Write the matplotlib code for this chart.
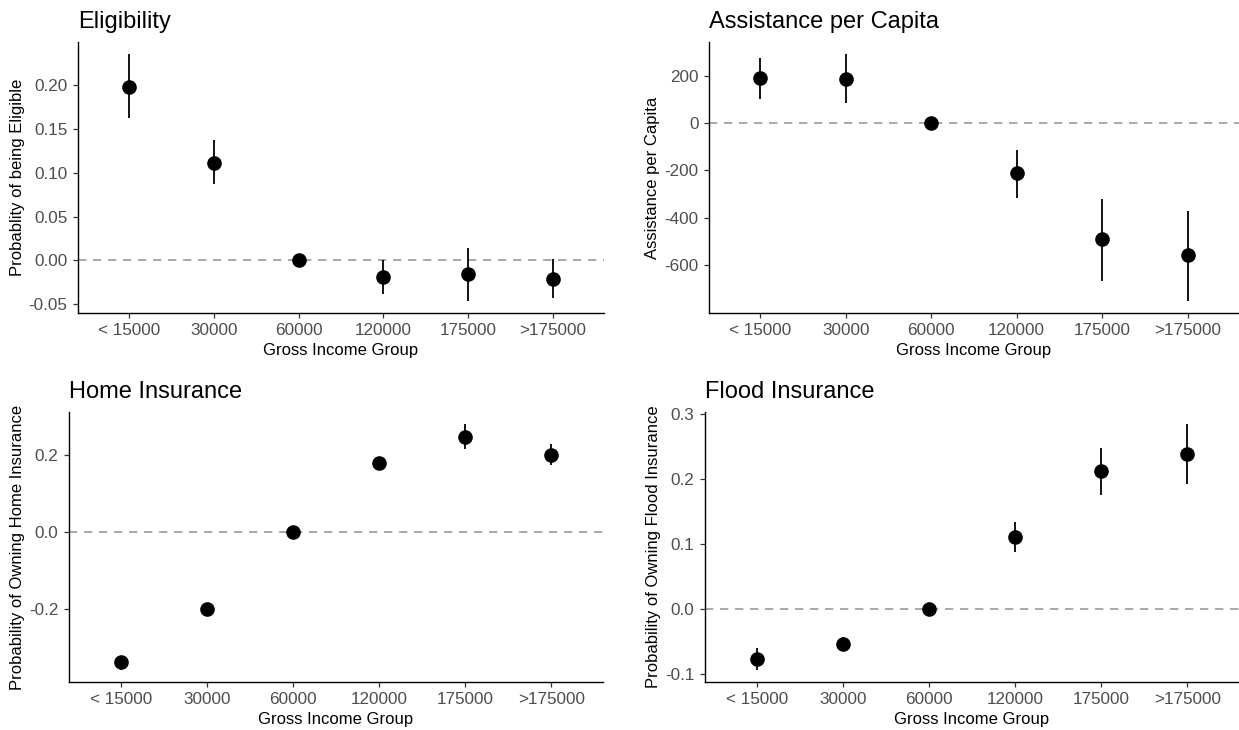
import matplotlib
matplotlib.use("Agg")
import matplotlib.pyplot as plt
import numpy as np

plt.rcParams['font.family'] = ['Liberation Sans', 'DejaVu Sans']
plt.rcParams['axes.unicode_minus'] = False

categories = ["< 15000", "30000", "60000", "120000", "175000", ">175000"]

elig_est = [0.198, 0.111, 0.0, -0.019, -0.016, -0.021]
elig_lo = [0.162, 0.087, 0.0, -0.038, -0.046, -0.0435]
elig_hi = [0.235, 0.137, 0.0, 0.0, 0.014, 0.0015]

assist_est = [193, 187, 0, -212, -490, -560]
assist_lo = [103, 86, 0, -317, -668, -752]
assist_hi = [277, 292, 0, -113, -320, -370]

home_est = [-0.339, -0.200, 0.0, 0.180, 0.248, 0.202]
home_lo = [-0.358, -0.208, 0.0, 0.162, 0.216, 0.176]
home_hi = [-0.321, -0.192, 0.0, 0.197, 0.281, 0.229]

flood_est = [-0.076, -0.053, 0.0, 0.111, 0.212, 0.238]
flood_lo = [-0.093, -0.064, 0.0, 0.088, 0.1755, 0.192]
flood_hi = [-0.059, -0.043, 0.0, 0.134, 0.248, 0.284]

elig_ticks = [-0.05, 0.00, 0.05, 0.10, 0.15, 0.20]
assist_ticks = [-600, -400, -200, 0, 200]
home_ticks = [-0.2, 0.0, 0.2]
flood_ticks = [-0.1, 0.0, 0.1, 0.2, 0.3]

W, H = 1239, 730
fig = plt.figure(figsize=(W / 100, H / 100), dpi=100)

def px_axes(l, r, t, b):
    return fig.add_axes([l / W, 1 - b / H, (r - l) / W, (b - t) / H])

panels = [
    dict(box=(78, 604, 42, 313), title="Eligibility", ylabel="Probablity of being Eligible",
         est=elig_est, lo=elig_lo, hi=elig_hi, ticks=elig_ticks, fmt="{:.2f}"),
    dict(box=(709, 1239, 42, 313), title="Assistance per Capita", ylabel="Assistance per Capita",
         est=assist_est, lo=assist_lo, hi=assist_hi, ticks=assist_ticks, fmt="{:.0f}"),
    dict(box=(69, 603, 412, 682), title="Home Insurance", ylabel="Probability of Owning Home Insurance",
         est=home_est, lo=home_lo, hi=home_hi, ticks=home_ticks, fmt="{:.1f}"),
    dict(box=(705, 1239, 412, 682), title="Flood Insurance", ylabel="Probability of Owning Flood Insurance",
         est=flood_est, lo=flood_lo, hi=flood_hi, ticks=flood_ticks, fmt="{:.1f}"),
]

x = np.arange(len(categories))
for p in panels:
    ax = px_axes(*p["box"])
    est = np.array(p["est"], dtype=float)
    lo = np.array(p["lo"], dtype=float)
    hi = np.array(p["hi"], dtype=float)
    ax.axhline(0, color="#999999", lw=1.2, ls=(0, (5, 4)), zorder=1)
    ax.vlines(x, lo, hi, color="black", lw=1.3, zorder=2)
    ax.plot(x, est, "o", color="black", ms=9.5, zorder=3)
    ymin, ymax = min(lo.min(), est.min()), max(hi.max(), est.max())
    pad = 0.05 * (ymax - ymin)
    ax.set_ylim(ymin - pad, ymax + pad)
    ax.set_xlim(-0.6, len(categories) - 0.4)
    ax.set_xticks(x)
    ax.set_xticklabels(categories)
    ax.set_yticks(p["ticks"])
    ax.set_yticklabels([p["fmt"].format(t) if abs(t) > 1e-12 else p["fmt"].format(0.0) for t in p["ticks"]])
    for s in ["top", "right"]:
        ax.spines[s].set_visible(False)
    for s in ["left", "bottom"]:
        ax.spines[s].set_linewidth(1.0)
        ax.spines[s].set_color("black")
    ax.tick_params(axis="both", length=3.5, width=0.9, color="#333333",
                   labelcolor="#4D4D4D", labelsize=12.3, pad=4)
    ax.set_xlabel("Gross Income Group", fontsize=12, color="black", labelpad=3)
    ax.set_ylabel(p["ylabel"], fontsize=12, color="black", labelpad=3)
    ax.set_title(p["title"], loc="left", fontsize=17, color="black", pad=10)

fig.savefig("out.png", dpi=100)
